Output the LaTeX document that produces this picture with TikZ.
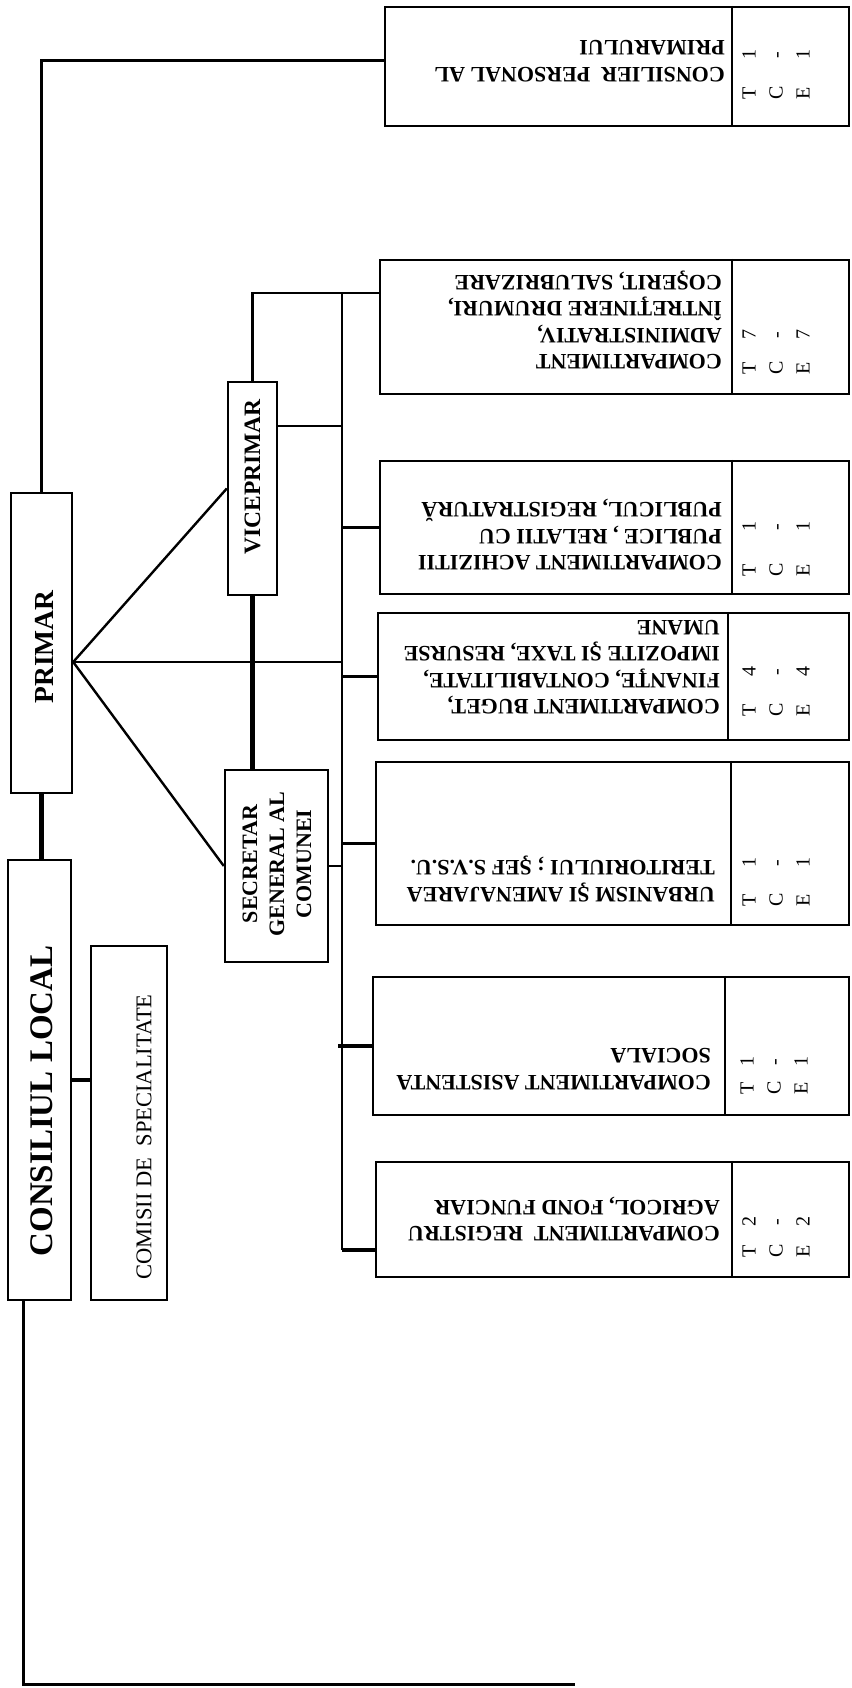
\documentclass[tikz,border=0pt]{standalone}
\usepackage{fontspec}
\setmainfont{Liberation Serif}
\usepackage{tikz}
\usetikzlibrary{positioning}
\newcommand{\tce}[2]{T\hspace{#1}#2\\C\hspace{#1}-\\E\hspace{#1}#2}

\begin{document}
\begin{tikzpicture}[x=1pt, y=-1pt,
  box/.style={draw, line width=2.4pt, inner sep=0pt},
  wire/.style={line width=2.4pt},
  heavy/.style={line width=4.2pt},
  title/.style={rotate=90, inner sep=0pt, font=\bfseries\fontsize{23.5}{27}\selectfont},
  dept/.style={rotate=180, anchor=west, align=left, inner sep=0pt, font=\bfseries\fontsize{22}{26.5}\selectfont},
  tcetext/.style={rotate=90, anchor=west, align=left, inner sep=0pt, font=\fontsize{20}{27}\selectfont}]
  \useasboundingbox (0,0) rectangle (851,1688);

  % left column
  \node(primar) [box, minimum width=61pt, minimum height=300pt] at (41.5,643) {};
  \node(consiliul) [box, minimum width=63pt, minimum height=440pt] at (39.5,1080) {};
  \node(comisii) [box, minimum width=76pt, minimum height=354pt] at (129,1123) {};
  \node(vice) [box, minimum width=49pt, minimum height=213pt] at (252.5,488.5) {};
  \node(secr) [box, minimum width=103pt, minimum height=192pt] at (276.5,866) {};

  \node(primartxt) [title, font=\bfseries\fontsize{27.5}{30}\selectfont] at (44,647) {PRIMAR};
  \node(cltxt) [title, font=\bfseries\fontsize{33}{36}\selectfont] at (41.5,1101) {CONSILIUL LOCAL};
  \node(comtxt) [title, font=\fontsize{22.5}{27}\selectfont] at (144,1137) {COMISII DE\ \ SPECIALITATE};
  \node(vicetxt) [title] at (252.5,477) {VICEPRIMAR};
  \node(secrtxt) [title, align=center, font=\bfseries\fontsize{22}{27}\selectfont] at (277,864) {SECRETAR\\GENERAL AL\\COMUNEI};

  % compartimente
  \node(consilier) [box, minimum width=464pt, minimum height=119pt] at (617,66.5) {};
  \node(admin) [box, minimum width=469pt, minimum height=134pt] at (614.5,327) {};
  \node(achiz) [box, minimum width=469pt, minimum height=133pt] at (614.5,527.5) {};
  \node(buget) [box, minimum width=471pt, minimum height=127pt] at (613.5,676.5) {};
  \node(urban) [box, minimum width=473pt, minimum height=163pt] at (612.5,843.5) {};
  \node(asist) [box, minimum width=476pt, minimum height=138pt] at (611,1046) {};
  \node(registru) [box, minimum width=473pt, minimum height=115pt] at (612.5,1219.5) {};
  \foreach \b/\w in {consilier/118, admin/118, achiz/118, buget/122, urban/119, asist/125, registru/118}
    \draw[wire] ([xshift=-\w pt]\b.north east) -- ([xshift=-\w pt]\b.south east);

  \node(consiliertxt) [dept] at (725,61) {CONSILIER\ \ PERSONAL AL\\PRIMARULUI};
  \node(admintxt) [dept] at (722,320) {COMPARTIMENT\\ADMINISTRATIV,\\ÎNTREŢINERE DRUMURI,\\COŞERIT, SALUBRIZARE};
  \node(achiztxt) [dept] at (722,535) {COMPARTIMENT ACHIZITII\\PUBLICE , RELATII CU\\PUBLICUL, REGISTRATURĂ};
  \node(bugettxt) [dept] at (720,667) {COMPARTIMENT BUGET,\\FINANŢE, CONTABILITATE,\\IMPOZITE ŞI TAXE, RESURSE\\UMANE};
  \node(urbantxt) [dept] at (715,879) {URBANISM ŞI AMENAJAREA\\TERITORIULUI ; ŞEF S.V.S.U.};
  \node(asisttxt) [dept] at (711,1069) {COMPARTIMENT ASISTENTA\\SOCIALA};
  \node(registrutxt) [dept] at (720,1219) {COMPARTIMENT\ \ REGISTRU\\AGRICOL, FOND FUNCIAR};

  \node(consiliertce) [tcetext] at (776,100) {\tce{28pt}{1}};
  \node(admintce) [tcetext] at (776,375) {\tce{23pt}{7}};
  \node(achiztce) [tcetext] at (776,577) {\tce{33pt}{1}};
  \node(bugettce) [tcetext] at (776,717) {\tce{28pt}{4}};
  \node(urbantce) [tcetext] at (776,907) {\tce{27pt}{1}};
  \node(asisttce) [tcetext] at (774,1095) {\tce{16pt}{1}};
  \node(registrutce) [tcetext] at (776,1258) {\tce{19pt}{2}};

  % legaturi
  \coordinate (apex) at ([yshift=-19pt]primar.east);
  \coordinate (bustop) at (342,293);
  \coordinate (busbot) at (342,1250);
  \coordinate (footend) at (575,1684);
  \draw[wire] ([yshift=6pt]consilier.west) -| (primar.north);
  \draw[heavy] (primar.south) -- (primar.south |- consiliul.north);
  \draw[heavy] (consiliul.east) -- (consiliul.east -| comisii.west);
  \draw[wire, line width=3pt] ([xshift=-16.5pt]consiliul.south) |- (footend);
  \draw[wire] (apex) -- (vice.west);
  \draw[wire] (apex) -- (secr.west);
  \draw[wire] (apex) -- (apex -| bustop);
  \draw[wire] (vice.north) |- ([yshift=34pt]admin.west);
  \draw[wire, line width=2.6pt] (bustop) -- (busbot);
  \draw[wire] ([yshift=-45pt]vice.north east) -- ([yshift=-45pt]vice.north east -| bustop);
  \draw[heavy] (vice.south) -- (vice.south |- secr.north);
  \draw[wire] (secr.east) -- (secr.east -| bustop);
  \foreach \b in {achiz,buget,urban}
    \draw[wire] (\b.west -| bustop) -- (\b.west);
  \draw[heavy, shorten <=-4pt] (asist.west -| bustop) -- (asist.west);
  \draw[heavy] (busbot) -- (busbot -| registru.west);
\end{tikzpicture}
\end{document}
